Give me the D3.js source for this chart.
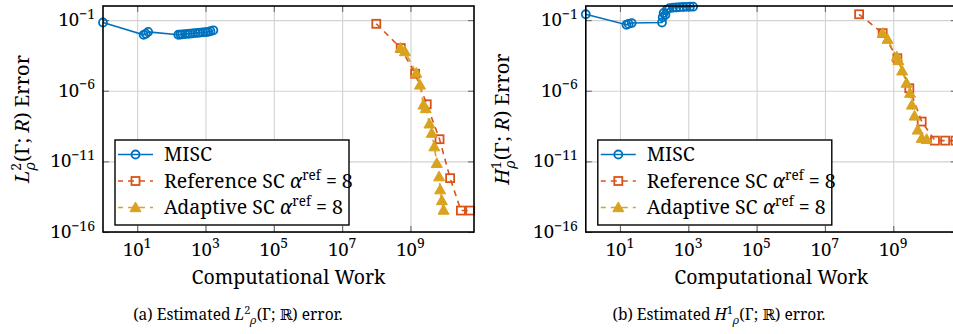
<!DOCTYPE html>
<html>
<head>
<meta charset="utf-8">
<script src="https://cdn.jsdelivr.net/npm/d3@7"></script>
<style>
  html, body { margin: 0; padding: 0; background: #fff; }
  svg { display: block; }
  text { font-family: "Noto Serif", "Liberation Serif", serif; fill: #000; }
</style>
</head>
<body>
<svg id="chart" width="953" height="334"></svg>
<script>
// ---- data: computational work vs. estimated error ----
const xTicks = [1e1, 1e3, 1e5, 1e7, 1e9];
const xTickExp = ["1", "3", "5", "7", "9"];
const yTicks = [1e-1, 1e-6, 1e-11, 1e-16];
const yTickExp = ["\u22121", "\u22126", "\u221211", "\u221216"];

const seriesNames = ["MISC", "Reference SC", "Adaptive SC"];
const seriesColors = ["#0072BD", "#D95319", "#D9A21F"];

// L2 error panel
const miscWorkL2 = [1, 15.5, 18, 21, 160, 185, 210, 250, 300, 350, 420, 500, 600, 700, 850, 1000, 1200, 1400, 1700];
const miscErrL2 = [0.068, 0.0091, 0.011, 0.0148, 0.0092, 0.0095, 0.0098, 0.0102, 0.0106, 0.011, 0.0115, 0.012, 0.0125, 0.013, 0.0135, 0.014, 0.0148, 0.0165, 0.019];
const refWorkL2 = [1e8, 5.2e8, 1.37e9, 3e9, 7.1e9, 1.45e10, 3e10, 5.6e10];
const refErrL2 = [0.055, 1.05e-3, 1.6e-5, 1.1e-7, 3.7e-10, 6.5e-13, 3.3e-15, 3.3e-15];
const adaWorkL2 = [5.1e8, 6.9e8, 1.48e9, 1.9e9, 2.4e9, 2.8e9, 3.6e9, 4.2e9, 5.0e9, 5.9e9, 6.9e9, 7.4e9, 8.3e9, 9.3e9];
const adaErrL2 = [1.05e-3, 6.0e-4, 1.8e-5, 2.6e-6, 1.0e-7, 5.6e-8, 4.6e-9, 1.0e-9, 1.1e-10, 7.4e-12, 8.3e-13, 1.0e-13, 1.7e-14, 3.6e-15];

// H1 error panel
const miscWorkH1 = [1, 15.5, 18, 22, 170, 178, 190, 214, 240, 282, 355, 447, 562, 708, 891, 1122, 1380];
const miscErrH1 = [0.26, 0.047, 0.054, 0.062, 0.068, 0.16, 0.32, 0.24, 0.56, 0.71, 0.76, 0.79, 0.83, 0.85, 0.87, 0.89, 0.89];
const refWorkH1 = [1e8, 4.9e8, 1.32e9, 2.95e9, 6.8e9, 1.66e10, 3.3e10, 6.6e10];
const refErrH1 = [0.26, 0.012, 2.0e-4, 1.5e-6, 6.6e-9, 2.95e-10, 2.95e-10, 2.95e-10];
const adaWorkH1 = [4.9e8, 6.8e8, 1.26e9, 1.41e9, 1.82e9, 2.45e9, 3.1e9, 3.5e9, 4.2e9, 5.2e9, 6.8e9, 9.5e9];
const adaErrH1 = [0.012, 4.5e-3, 2.6e-4, 1.4e-4, 2.6e-5, 3.5e-6, 6.8e-7, 1.0e-7, 1.66e-8, 1.7e-9, 4.4e-10, 3.7e-10];

// ---- layout ----
const svg = d3.select("#chart");
const plotW = 371, plotTop = 6, plotBottom = 232;
const xDomain = [1, Math.pow(10, 10.86)];
const yDomain = [1e-16, 1];

const panels = [
  { left: 103, norm: "L", pow: "2", tag: "(a)", capX: 238, labX: 29,
    series: [[miscWorkL2, miscErrL2], [refWorkL2, refErrL2], [adaWorkL2, adaErrL2]] },
  { left: 585.8, norm: "H", pow: "1", tag: "(b)", capX: 719, labX: 509,
    series: [[miscWorkH1, miscErrH1], [refWorkH1, refErrH1], [adaWorkH1, adaErrH1]] }
];

function power(sel, base, exp, size) {
  sel.append("tspan").text(base);
  sel.append("tspan").attr("dy", -7.5).attr("font-size", size).text(exp);
}

// marker drawing helpers
function marker(sel, kind, color) {
  if (kind === 0) {
    sel.append("circle").attr("r", 4).attr("fill", "none")
      .attr("stroke", color).attr("stroke-width", 1.8);
  } else if (kind === 1) {
    sel.append("rect").attr("x", -4).attr("y", -4).attr("width", 8).attr("height", 8)
      .attr("fill", "none").attr("stroke", color).attr("stroke-width", 1.8);
  } else {
    sel.append("path").attr("d", "M0,-5.5L5.5,4.2L-5.5,4.2Z")
      .attr("fill", color).attr("stroke", color).attr("stroke-width", 1);
  }
}

// normed-space name with super/subscript: e.g. L^2_rho(Gamma; R)
function normLabel(t, p, blackboard, supSize, stacked) {
  t.append("tspan").attr("font-style", "italic").text(p.norm);
  t.append("tspan").attr("font-size", supSize).attr("dy", -supSize * 0.55).text(p.pow);
  t.append("tspan").attr("font-size", supSize).attr("font-style", "italic")
    .attr("dx", stacked ? -supSize * 0.52 : 0).attr("dy", supSize * 0.95).text("\u03C1");
  t.append("tspan").attr("dy", -supSize * 0.4).text("(\u0393; ");
  if (blackboard) t.append("tspan").attr("font-family", "DejaVu Serif, DejaVu Sans").text("\u211D");
  else t.append("tspan").attr("font-style", "italic").text("R");
  t.append("tspan").text(")");
}

panels.forEach(p => {
  const x = d3.scaleLog().domain(xDomain).range([p.left, p.left + plotW]);
  const y = d3.scaleLog().domain(yDomain).range([plotBottom, plotTop]);
  const g = svg.append("g");
  const h = plotBottom - plotTop;

  // grid
  g.append("g").attr("transform", `translate(0,${plotBottom})`)
    .call(d3.axisBottom(x).tickValues(xTicks).tickSize(-h).tickFormat(""))
    .call(s => { s.select(".domain").remove();
      s.selectAll("line").attr("stroke", "#d2d2d2").attr("stroke-width", 1.1); });
  g.append("g").attr("transform", `translate(${p.left},0)`)
    .call(d3.axisLeft(y).tickValues(yTicks).tickSize(-plotW).tickFormat(""))
    .call(s => { s.select(".domain").remove();
      s.selectAll("line").attr("stroke", "#d2d2d2").attr("stroke-width", 1.1); });

  // inward tick marks on all four sides
  const tickStyle = s => { s.select(".domain").remove();
    s.selectAll("line").attr("stroke", "#6a6a6a").attr("stroke-width", 1.1); };
  g.append("g").attr("transform", `translate(0,${plotBottom})`)
    .call(d3.axisBottom(x).tickValues(xTicks).tickSize(-6).tickFormat("")).call(tickStyle);
  g.append("g").attr("transform", `translate(0,${plotTop})`)
    .call(d3.axisTop(x).tickValues(xTicks).tickSize(-6).tickFormat("")).call(tickStyle);
  g.append("g").attr("transform", `translate(${p.left},0)`)
    .call(d3.axisLeft(y).tickValues(yTicks).tickSize(-6).tickFormat("")).call(tickStyle);
  g.append("g").attr("transform", `translate(${p.left + plotW},0)`)
    .call(d3.axisRight(y).tickValues(yTicks).tickSize(-6).tickFormat("")).call(tickStyle);

  // tick labels
  xTicks.forEach((v, i) => {
    const t = g.append("text").attr("x", x(v)).attr("y", 255.5)
      .attr("text-anchor", "middle").attr("font-size", 18.5);
    power(t, "10", xTickExp[i], 14);
  });
  yTicks.forEach((v, i) => {
    const t = g.append("text").attr("x", p.left - 8).attr("y", y(v) + 6)
      .attr("text-anchor", "end").attr("font-size", 18.5);
    power(t, "10", yTickExp[i], 14);
  });

  // series
  p.series.forEach(([w, e], k) => {
    const pts = w.map((wv, i) => [x(wv), y(e[i])]);
    g.append("path").attr("d", d3.line()(pts)).attr("fill", "none")
      .attr("stroke", seriesColors[k]).attr("stroke-width", 1.6)
      .attr("stroke-dasharray", k === 0 ? null : "6,5");
    pts.forEach(pt => {
      marker(g.append("g").attr("transform", `translate(${pt[0]},${pt[1]})`), k, seriesColors[k]);
    });
  });

  // frame
  g.append("rect").attr("x", p.left).attr("y", plotTop).attr("width", plotW).attr("height", h)
    .attr("fill", "none").attr("stroke", "#000").attr("stroke-width", 1.6);

  // legend
  const lx = p.left + 12, ly = 140;
  const lg = g.append("g");
  lg.append("rect").attr("x", lx).attr("y", ly).attr("width", 234).attr("height", 85)
    .attr("fill", "#fff").attr("stroke", "#000").attr("stroke-width", 1.4);
  seriesNames.forEach((name, k) => {
    const cy = ly + 14.5 + k * 26.5;
    lg.append("line").attr("x1", lx + 3).attr("x2", lx + 38).attr("y1", cy).attr("y2", cy)
      .attr("stroke", seriesColors[k]).attr("stroke-width", 1.6)
      .attr("stroke-dasharray", k === 0 ? null : "6,5").attr("stroke-dashoffset", k === 0 ? 0 : 1);
    marker(lg.append("g").attr("transform", `translate(${lx + 20.5},${cy})`), k, seriesColors[k]);
    const t = lg.append("text").attr("x", lx + 49).attr("y", cy + 6.5).attr("font-size", 19.5);
    t.append("tspan").text(name);
    if (k > 0) {
      t.append("tspan").text(" ");
      t.append("tspan").attr("font-style", "italic").text("\u03B1");
      t.append("tspan").attr("font-size", 13.5).attr("dy", -8).text("ref");
      t.append("tspan").attr("dy", 8).text(" = 8");
    }
  });

  // axis labels
  g.append("text").attr("x", p.left + plotW / 2).attr("y", 284)
    .attr("text-anchor", "middle").attr("font-size", 19.5).text("Computational Work");
  const yl = g.append("text").attr("transform", `translate(${p.labX},119) rotate(-90)`)
    .attr("text-anchor", "middle").attr("font-size", 20);
  normLabel(yl, p, false, 14, true);
  yl.append("tspan").text(" Error");

  // caption
  const cap = g.append("text").attr("x", p.capX).attr("y", 320)
    .attr("text-anchor", "middle").attr("font-size", 15.5);
  cap.append("tspan").text(p.tag + " Estimated ");
  normLabel(cap, p, true, 11, false);
  cap.append("tspan").text(" error.");
});
</script>
</body>
</html>
